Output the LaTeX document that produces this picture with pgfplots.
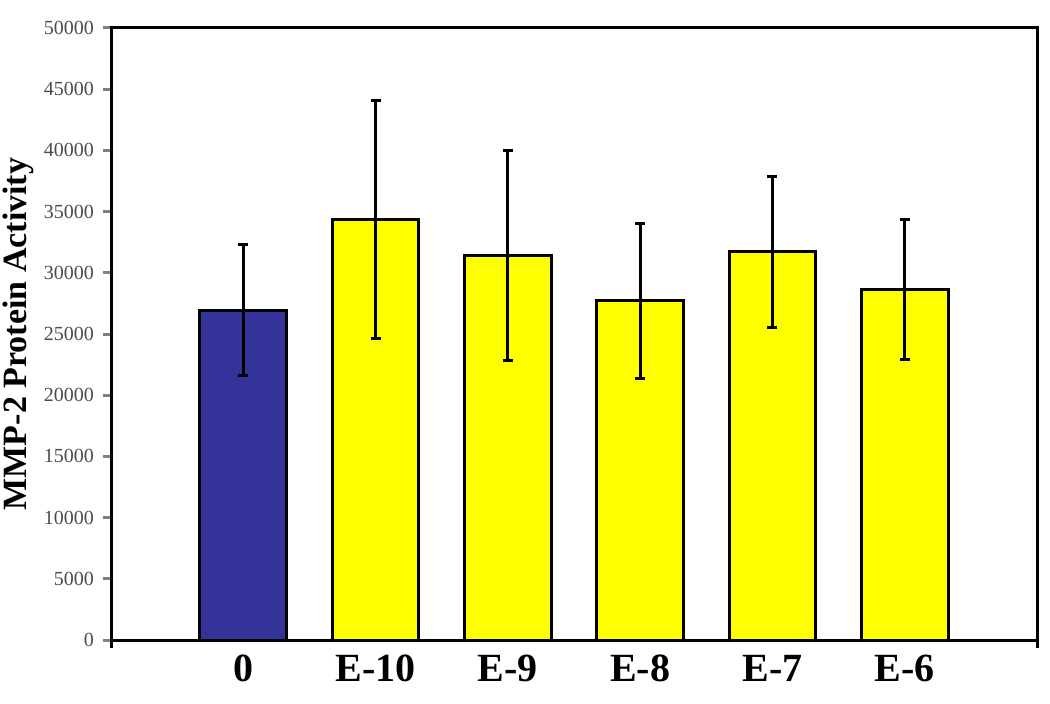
\documentclass[border=0pt]{standalone}
\usepackage{fontspec}
\setmainfont{Liberation Serif}
\usepackage{pgfplots}
\pgfplotsset{compat=1.18}
\definecolor{barblue}{RGB}{51,51,153}
\definecolor{baryellow}{RGB}{255,255,0}

\begin{document}
\begin{tikzpicture}
\begin{axis}[
    scale only axis,
    width=463pt, height=306pt,
    xmin=-1, xmax=6,
    ymin=0, ymax=50000,
    ytick={0,5000,...,50000},
    scaled y ticks=false,
    /pgf/number format/1000 sep={},
    /pgf/number format/assume math mode=true,
    xtick={0,...,5},
    xticklabels={0,E-10,E-9,E-8,E-7,E-6},
    xtick style={draw=none},
    extra x ticks={-1,6},
    extra x tick labels={},
    extra x tick style={xtick style={draw=black,line width=1.5pt}},
    xtick pos=bottom, ytick pos=left,
    tick align=outside,
    major tick length=4pt,
    ytick style={line width=1.5pt},
    axis line style={line width=1.5pt},
    y tick label style={font=\fontsize{10}{12}\selectfont, text=black!70, xshift=-1pt},
    x tick label style={font=\fontsize{20}{24}\selectfont\bfseries},
    ylabel={MMP-2 Protein Activity},
    ylabel style={font=\fontsize{17}{20}\selectfont\bfseries,
                  at={(axis description cs:-0.1004,0.5)}, anchor=center},
    ybar, bar width=0.656,
    error bars/error bar style={line width=1.5pt, black},
    error bars/error mark=-,
    error bars/error mark options={rotate=90, line width=1.5pt, black, mark size=2.5pt},
]
\addplot[fill=barblue, draw=black, line width=1.5pt, bar shift=0pt,
         error bars/.cd, y dir=both, y explicit]
  table[x=idx, y=val, y error=err] {
idx val err
0 26950 5380
};
\addplot[fill=baryellow, draw=black, line width=1.5pt, bar shift=0pt,
         error bars/.cd, y dir=both, y explicit]
  table[x=idx, y=val, y error=err] {
idx val err
1 34370 9700
2 31400 8600
3 27700 6350
4 31700 6150
5 28650 5730
};
\end{axis}
\pgfresetboundingbox
\path ([shift={(-55.5pt,-31.5pt)}]current axis.south west)
  rectangle ([shift={(6.5pt,14pt)}]current axis.north east);
\end{tikzpicture}
\end{document}
